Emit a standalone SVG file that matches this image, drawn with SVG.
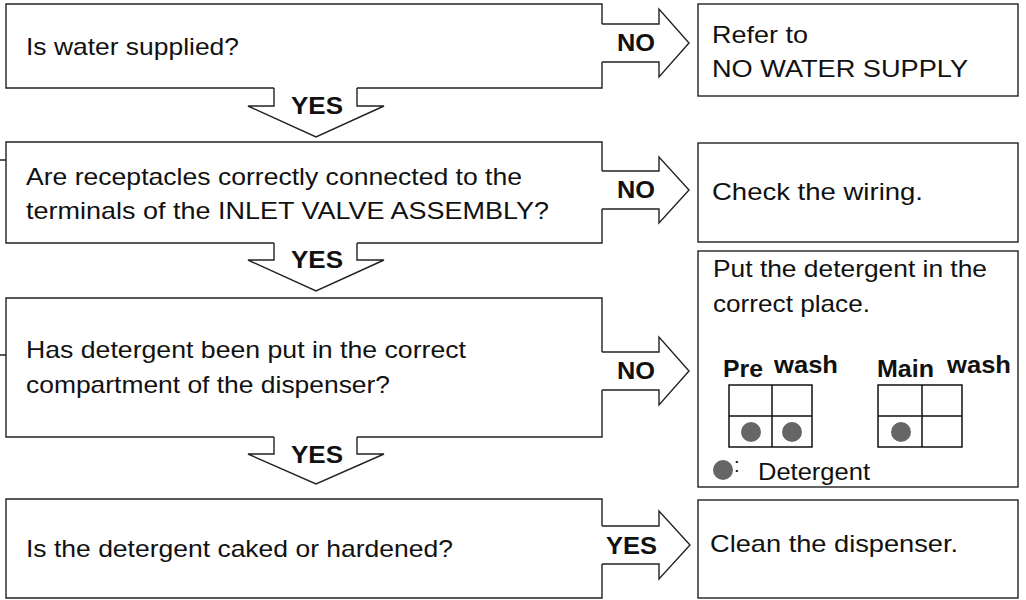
<svg xmlns="http://www.w3.org/2000/svg" width="1026" height="600" viewBox="0 0 1026 600">
<style>
.ln{fill:none;stroke:#222;stroke-width:1.4;stroke-linejoin:miter}
.box{fill:#fff;stroke:#222;stroke-width:1.4}
.t{font-family:"Liberation Sans",Arial,Helvetica,sans-serif;font-size:24px;fill:#111}
.b{font-family:"Liberation Sans",Arial,Helvetica,sans-serif;font-size:24px;font-weight:bold;fill:#111}
.g{fill:none;stroke:#111;stroke-width:1.5}
.dot{fill:#666}
</style>
<rect width="1026" height="600" fill="#fff"/>
<g id="q1">
<path class="ln" d="M602,24 V4 H6 V88 H274 M357,88 H602 V62"/>
<text class="t" x="26" y="55" textLength="213" lengthAdjust="spacingAndGlyphs">Is water supplied?</text>
</g>
<g id="q2">
<path class="ln" d="M602,171 V142 H6 V243 H274 M357,243 H602 V209"/>
<text class="t" x="26" y="185" textLength="496" lengthAdjust="spacingAndGlyphs">Are receptacles correctly connected to the</text>
<text class="t" x="26" y="219" textLength="523" lengthAdjust="spacingAndGlyphs">terminals of the INLET VALVE ASSEMBLY?</text>
</g>
<g id="q3">
<path class="ln" d="M602,352 V298 H6 V437 H274 M357,437 H602 V390"/>
<text class="t" x="26" y="358" textLength="440" lengthAdjust="spacingAndGlyphs">Has detergent been put in the correct</text>
<text class="t" x="26" y="393" textLength="364" lengthAdjust="spacingAndGlyphs">compartment of the dispenser?</text>
</g>
<g id="q4">
<path class="ln" d="M602,526 V499 H6 V598 H602 V564"/>
<text class="t" x="26" y="557" textLength="427" lengthAdjust="spacingAndGlyphs">Is the detergent caked or hardened?</text>
</g>
<g id="r1">
<rect class="box" x="698" y="4" width="320" height="92"/>
<text class="t" x="712" y="43" textLength="96" lengthAdjust="spacingAndGlyphs">Refer to</text>
<text class="t" x="712" y="77" textLength="256" lengthAdjust="spacingAndGlyphs">NO WATER SUPPLY</text>
</g>
<g id="r2">
<rect class="box" x="698" y="143" width="320" height="99"/>
<text class="t" x="712" y="200" textLength="211" lengthAdjust="spacingAndGlyphs">Check the wiring.</text>
</g>
<g id="r3">
<rect class="box" x="698" y="251" width="320" height="236"/>
<text class="t" x="713" y="277" textLength="274" lengthAdjust="spacingAndGlyphs">Put the detergent in the</text>
<text class="t" x="713" y="312" textLength="157" lengthAdjust="spacingAndGlyphs">correct place.</text>
<text class="b" x="723" y="377" textLength="40" lengthAdjust="spacingAndGlyphs">Pre</text>
<text class="b" x="774" y="373" textLength="64" lengthAdjust="spacingAndGlyphs">wash</text>
<text class="b" x="877" y="377" textLength="57" lengthAdjust="spacingAndGlyphs">Main</text>
<text class="b" x="947" y="373" textLength="64" lengthAdjust="spacingAndGlyphs">wash</text>
<path class="g" d="M729,385 H812 V447 H729 Z M772,385 V447 M729,416 H812"/>
<circle class="dot" cx="751" cy="432" r="10"/>
<circle class="dot" cx="792" cy="432" r="10"/>
<path class="g" d="M878,385 H962 V447 H878 Z M922,385 V447 M878,416 H962"/>
<circle class="dot" cx="901" cy="432" r="10"/>
<circle class="dot" cx="723" cy="470" r="10"/>
<text class="t" x="734" y="472" style="font-size:20px">:</text>
<text class="t" x="758" y="480" textLength="112" lengthAdjust="spacingAndGlyphs">Detergent</text>
</g>
<g id="r4">
<rect class="box" x="698" y="500" width="320" height="98"/>
<text class="t" x="710" y="552" textLength="248" lengthAdjust="spacingAndGlyphs">Clean the dispenser.</text>
</g>
<g id="connectors">
<path class="ln" d="M602,24 H659 V9 L689,43 L659,77 V62 H602"/>
<path class="ln" d="M274,88 V106 H248 L316,137 L384,106 H357 V88"/>
<path class="ln" d="M602,171 H659 V157 L689,190 L659,223 V209 H602"/>
<path class="ln" d="M274,243 V260 H248 L316,291 L384,260 H357 V243"/>
<path class="ln" d="M602,352 H659 V337 L689,371 L659,405 V390 H602"/>
<path class="ln" d="M274,437 V454 H248 L316,484 L384,454 H357 V437"/>
<path class="ln" d="M602,526 H659 V511 L690,545 L659,579 V564 H602"/>
<path class="ln" d="M0,160 H6 M0,355 H6"/>
<text class="b" x="617" y="51" textLength="38" lengthAdjust="spacingAndGlyphs">NO</text>
<text class="b" x="291" y="114" textLength="52" lengthAdjust="spacingAndGlyphs">YES</text>
<text class="b" x="617" y="198" textLength="38" lengthAdjust="spacingAndGlyphs">NO</text>
<text class="b" x="291" y="268" textLength="52" lengthAdjust="spacingAndGlyphs">YES</text>
<text class="b" x="617" y="379" textLength="38" lengthAdjust="spacingAndGlyphs">NO</text>
<text class="b" x="291" y="463" textLength="52" lengthAdjust="spacingAndGlyphs">YES</text>
<text class="b" x="606" y="554" textLength="51" lengthAdjust="spacingAndGlyphs">YES</text>
</g>
</svg>
